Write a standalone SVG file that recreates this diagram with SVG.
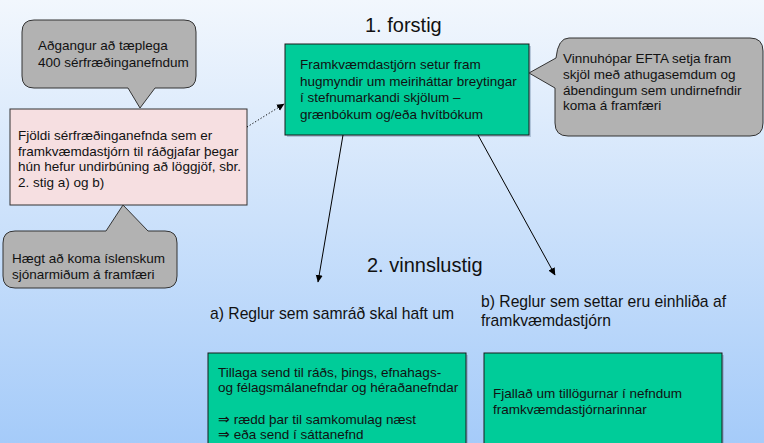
<svg xmlns="http://www.w3.org/2000/svg" width="764" height="443" viewBox="0 0 764 443">
<defs>
<linearGradient id="bg" x1="0" y1="0" x2="0" y2="1">
<stop offset="0" stop-color="#f2f7fd"/>
<stop offset="1" stop-color="#a5cbf9"/>
</linearGradient>
<marker id="ah" markerWidth="8" markerHeight="8" refX="7" refY="4" orient="auto" markerUnits="userSpaceOnUse">
<path d="M0,0.5 L7.5,4 L0,7.5 Z" fill="#000"/>
</marker>
</defs>
<style>
text{font-family:"Liberation Sans",Arial,sans-serif;fill:#111;font-size:13.5px}
.h{font-size:20px}
.lbl{font-size:15.7px}
.green{fill:#00cc99;stroke:#1a1a1a;stroke-width:1}
.pink{fill:#f6dfe1;stroke:#333;stroke-width:1}
.call{fill:#b2b2b2;stroke:#333;stroke-width:1}
.sh{fill:#6f8aa8;opacity:0.4}
.conn{fill:none;stroke:#000;stroke-width:1}
</style>
<rect x="0" y="0" width="764" height="443" fill="url(#bg)"/>

<g id="title1"><text class="h" x="365" y="32">1. forstig</text></g>
<g id="title2"><text class="h" x="367" y="272">2. vinnslustig</text></g>

<g id="callout-top-left">
<path class="call" d="M34,20 H184 Q196,20 196,32 V76 Q196,88 184,88 H155 L140,108 L128,88 H34 Q22,88 22,76 V32 Q22,20 34,20 Z"/>
<text x="38" y="50">Aðgangur að tæplega</text>
<text x="38" y="67">400 sérfræðinganefndum</text>
</g>

<g id="pink-box">
<rect class="pink" x="10" y="109" width="237" height="96"/>
<text x="18" y="140">Fjöldi sérfræðinganefnda sem er</text>
<text x="18" y="155.5">framkvæmdastjórn til ráðgjafar þegar</text>
<text x="18" y="171">hún hefur undirbúning að löggjöf, sbr.</text>
<text x="18" y="186.5">2. stig a) og b)</text>
</g>

<g id="callout-bottom-left">
<path class="call" d="M15,231 H106 L123,205 L148,231 H165 Q177,231 177,243 V276 Q177,288 165,288 H15 Q3,288 3,276 V243 Q3,231 15,231 Z"/>
<text x="12" y="263">Hægt að koma íslenskum</text>
<text x="12" y="279">sjónarmiðum á framfæri</text>
</g>

<g id="green-top">
<rect class="sh" x="287" y="46" width="244" height="91"/>
<rect class="green" x="285" y="44" width="244" height="91"/>
<text x="300" y="69">Framkvæmdastjórn setur fram</text>
<text x="300" y="85.5">hugmyndir um meiriháttar breytingar</text>
<text x="300" y="102">í stefnumarkandi skjölum –</text>
<text x="300" y="118.5">grænbókum og/eða hvítbókum</text>
</g>

<g id="callout-right">
<path class="call" d="M569,38 H750 Q763,38 763,51 V123 Q763,136 750,136 H568 Q555,136 555,123 V88 L529,73 L556,58 Q558,38 569,38 Z"/>
<text x="563" y="63">Vinnuhópar EFTA setja fram</text>
<text x="563" y="79">skjöl með athugasemdum og</text>
<text x="563" y="94.5">ábendingum sem undirnefndir</text>
<text x="563" y="110">koma á framfæri</text>
</g>

<g id="label-a"><text class="lbl" x="210" y="319">a) Reglur sem samráð skal haft um</text></g>
<g id="label-b">
<text class="lbl" x="481" y="307">b) Reglur sem settar eru einhliða af</text>
<text class="lbl" x="481" y="326">framkvæmdastjórn</text>
</g>

<g id="green-bottom-left">
<rect class="sh" x="210" y="355" width="258" height="100"/>
<rect class="green" x="208" y="353" width="258" height="100"/>
<text x="218" y="377">Tillaga send til ráðs, þings, efnahags-</text>
<text x="218" y="392">og félagsmálanefndar og héraðanefndar</text>
<text x="218" y="424">⇒ rædd þar til samkomulag næst</text>
<text x="218" y="439">⇒ eða send í sáttanefnd</text>
</g>

<g id="green-bottom-right">
<rect class="sh" x="486" y="355" width="238" height="100"/>
<rect class="green" x="484" y="353" width="238" height="100"/>
<text x="493" y="398">Fjallað um tillögurnar í nefndum</text>
<text x="493" y="414">framkvæmdastjórnarinnar</text>
</g>

<g id="connectors">
<line class="conn" x1="247" y1="127" x2="284" y2="104" stroke-dasharray="1.2,2" marker-end="url(#ah)"/>
<line class="conn" x1="343" y1="135" x2="318" y2="282" marker-end="url(#ah)"/>
<line class="conn" x1="478" y1="135" x2="555" y2="275" marker-end="url(#ah)"/>
</g>
</svg>
